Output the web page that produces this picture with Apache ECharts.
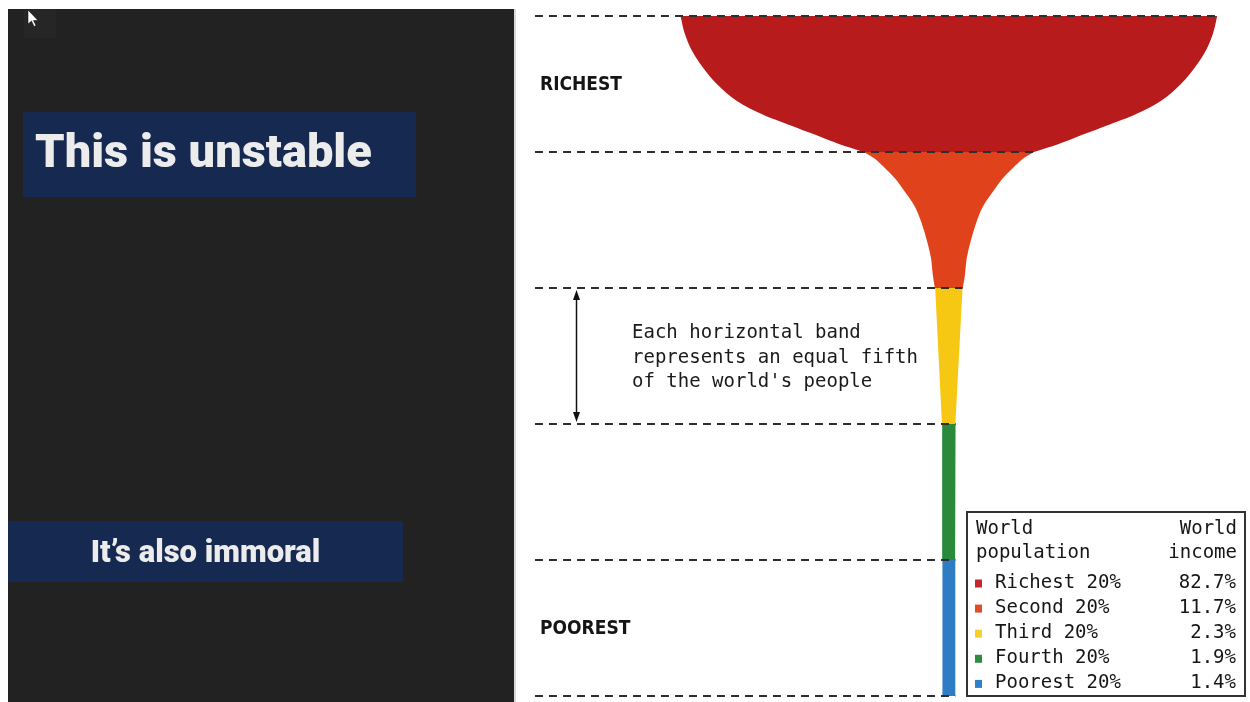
<!DOCTYPE html>
<html>
<head>
<meta charset="utf-8">
<title>World income distribution</title>
<script src="https://cdn.jsdelivr.net/npm/echarts@6/dist/echarts.min.js"></script>
<style>
  html, body { margin: 0; padding: 0; background: #ffffff; }
  #chart { width: 1250px; height: 702px; }
</style>
</head>
<body>
<div id="chart"></div>
<script>
// Distribution of world income across five equal population bands
const bandNames = ['Richest 20%', 'Second 20%', 'Third 20%', 'Fourth 20%', 'Poorest 20%'];
const incomeShares = [82.7, 11.7, 2.3, 1.9, 1.4];
const bandBounds = [100, 80, 60, 40, 20, 0];          // population percentile
const sideLabels = ['RICHEST', '', '', '', 'POOREST'];

// Outline of each band as [population percentile, half-width of the glass]
const richestProfile = [[100, 100], [97.5, 98.5], [95, 95.9], [92.5, 91.8], [90, 86.5], [87.5, 79],
                        [85.5, 69.4], [84, 59.7], [82, 46.3], [81, 39.6], [80, 31.7]];
const secondProfile  = [[80, 31.7], [79, 27.6], [77.5, 23.5], [76, 19.8], [74.5, 17], [72, 12.7],
                        [69.5, 10.1], [67, 8.2], [64.5, 6.7], [62, 6], [60, 5.2]];
const thirdProfile   = [[60, 5.1], [40, 2.5]];
const fourthProfile  = [[40, 2.5], [20, 2.4]];
const poorestProfile = [[20, 2.4], [0, 2.4]];
const profiles = [richestProfile, secondProfile, thirdProfile, fourthProfile, poorestProfile];

const bandColors = ['#b71b1b', '#e0431b', '#f6c813', '#2a8a3b', '#2e7cc3'];
const keyColors  = ['#c1272d', '#e04d26', '#f5d02c', '#2e8b3f', '#2f80c9'];

const X_MIN = -155, X_MAX = 110;
const MONO = '"DejaVu Sans Mono", "Liberation Mono", monospace';

// Half-width of the glass at each band boundary
function edgeAt(k) {
  if (k < profiles.length) return profiles[k][0][1];
  const last = profiles[profiles.length - 1];
  return last[last.length - 1][1];
}

// Smooth path through pixel points (Catmull-Rom as cubic Bezier segments)
function curveThrough(pts) {
  let d = '';
  for (let i = 0; i < pts.length - 1; i++) {
    const p0 = pts[Math.max(i - 1, 0)], p1 = pts[i], p2 = pts[i + 1], p3 = pts[Math.min(i + 2, pts.length - 1)];
    const c1 = [p1[0] + (p2[0] - p0[0]) / 6, p1[1] + (p2[1] - p0[1]) / 6];
    const c2 = [p2[0] - (p3[0] - p1[0]) / 6, p2[1] - (p3[1] - p1[1]) / 6];
    d += ' C' + c1[0] + ' ' + c1[1] + ' ' + c2[0] + ' ' + c2[1] + ' ' + p2[0] + ' ' + p2[1];
  }
  return d;
}

const chart = echarts.init(document.getElementById('chart'), null, { renderer: 'canvas' });

// Key box (population fifth -> share of income)
const keyLeft = 967, keyTop = 512, keyW = 278, keyH = 184;
const monoText = (x, y, text, align) => ({
  type: 'text',
  style: { x: x, y: y, text: text, font: '19px ' + MONO, fill: '#161616', textAlign: align, textVerticalAlign: 'middle' }
});
const keyChildren = [
  { type: 'rect', shape: { x: keyLeft, y: keyTop, width: keyW, height: keyH },
    style: { fill: '#ffffff', stroke: '#333333', lineWidth: 2 } },
  monoText(keyLeft + 9, keyTop + 17.5, 'World', 'left'),
  monoText(keyLeft + 9, keyTop + 41, 'population', 'left'),
  monoText(keyLeft + keyW - 8, keyTop + 17.5, 'World', 'right'),
  monoText(keyLeft + keyW - 8, keyTop + 41, 'income', 'right')
];
bandNames.forEach((name, i) => {
  const cy = keyTop + 71 + i * 25.1;
  keyChildren.push(
    { type: 'rect', shape: { x: keyLeft + 8, y: cy - 3.5, width: 7, height: 8 }, style: { fill: keyColors[i] } },
    monoText(keyLeft + 28, cy, name, 'left'),
    monoText(keyLeft + keyW - 9, cy, incomeShares[i].toFixed(1) + '%', 'right')
  );
});

const option = {
  backgroundColor: '#ffffff',
  animation: false,
  grid: { left: 533, right: 6, top: 16, bottom: 6 },
  xAxis: { type: 'value', min: X_MIN, max: X_MAX, show: false },
  yAxis: { type: 'value', min: 0, max: 100, show: false },
  graphic: [
    // Slide panel on the left
    { type: 'rect', shape: { x: 8, y: 9, width: 506, height: 693 }, style: { fill: '#222222' } },
    { type: 'rect', shape: { x: 24, y: 9, width: 32, height: 29 }, style: { fill: '#262626' } },
    { type: 'line', shape: { x1: 515, y1: 9, x2: 515, y2: 702 }, style: { stroke: '#b4b4b4', lineWidth: 1 } },
    { type: 'polygon', shape: { points: [[28, 10], [28, 24], [31.5, 21], [34, 26.5], [36, 25.5], [33.5, 20.5], [38, 20.5]] },
      style: { fill: '#ffffff', stroke: '#000000', lineWidth: 0.5 } },
    { type: 'rect', shape: { x: 23, y: 112, width: 393, height: 85 }, style: { fill: '#162950' } },
    { type: 'text', style: { x: 35, y: 155, text: 'This is unstable', font: '900 47px Roboto',
        fill: '#ececec', textAlign: 'left', textVerticalAlign: 'middle' } },
    { type: 'rect', shape: { x: 8, y: 521, width: 395, height: 61 }, style: { fill: '#162950' } },
    { type: 'text', style: { x: 205.5, y: 554, text: 'It\u2019s also immoral', font: '900 31px Roboto',
        fill: '#ececec', textAlign: 'center', textVerticalAlign: 'middle' } },
    // Note on band height
    { type: 'text', style: { x: 632, y: 358, text: 'Each horizontal band\nrepresents an equal fifth\nof the world\'s people',
        lineHeight: 24.5, font: '19px ' + MONO, fill: '#1a1a1a', textAlign: 'left', textVerticalAlign: 'middle' } },
    { type: 'group', children: keyChildren }
  ],
  series: [
    {
      // The glass: one filled outline per population fifth
      name: 'bands',
      type: 'custom',
      clip: false,
      data: bandNames.map((_, i) => [0, (bandBounds[i] + bandBounds[i + 1]) / 2, i]),
      renderItem: (params, api) => {
        const prof = profiles[params.dataIndex];
        const left = prof.map(([p, hw]) => api.coord([-hw, p]));
        const right = prof.slice().reverse().map(([p, hw]) => api.coord([hw, p]));
        const d = 'M' + left[0][0] + ' ' + left[0][1] + curveThrough(left) +
                  ' L' + right[0][0] + ' ' + right[0][1] + curveThrough(right) + ' Z';
        return {
          type: 'path',
          shape: { pathData: d },
          style: { fill: bandColors[params.dataIndex] }
        };
      }
    },
    {
      // Dashed boundaries between fifths
      name: 'bounds',
      type: 'custom',
      clip: false,
      data: bandBounds.map((p, k) => [edgeAt(k), p]),
      renderItem: (params, api) => {
        const p = api.value(1);
        const a = api.coord([X_MIN, p]);
        const b = api.coord([api.value(0), p]);
        return {
          type: 'line',
          shape: { x1: a[0] + 2, y1: a[1], x2: b[0], y2: b[1] },
          style: { stroke: '#2e2e2e', lineWidth: 2, lineDash: [8, 6] }
        };
      }
    },
    {
      // Double arrow spanning one band
      name: 'span',
      type: 'custom',
      clip: false,
      data: [[X_MIN + 16, bandBounds[2], bandBounds[3]]],
      renderItem: (params, api) => {
        const top = api.coord([api.value(0), api.value(1)]);
        const bot = api.coord([api.value(0), api.value(2)]);
        const x = Math.round(top[0]) + 0.5;
        const y1 = top[1] + 2, y2 = bot[1] - 2;
        return {
          type: 'group',
          children: [
            { type: 'line', shape: { x1: x, y1: y1 + 4, x2: x, y2: y2 - 4 },
              style: { stroke: '#111111', lineWidth: 1.5 } },
            { type: 'polygon', shape: { points: [[x, y1], [x - 3.5, y1 + 10], [x + 3.5, y1 + 10]] },
              style: { fill: '#111111' } },
            { type: 'polygon', shape: { points: [[x, y2], [x - 3.5, y2 - 10], [x + 3.5, y2 - 10]] },
              style: { fill: '#111111' } }
          ]
        };
      }
    },
    {
      // Labels for the top and bottom bands
      name: 'sides',
      type: 'custom',
      clip: false,
      data: sideLabels.map((t, i) => [X_MIN, (bandBounds[i] + bandBounds[i + 1]) / 2, i]).filter(d => sideLabels[d[2]]),
      renderItem: (params, api) => {
        const pt = api.coord([api.value(0), api.value(1)]);
        return {
          type: 'text',
          style: {
            x: pt[0] + 7, y: pt[1] + 1, text: sideLabels[api.value(2)],
            font: 'bold 19px "DejaVu Sans Condensed", "Liberation Sans Narrow", sans-serif',
            fill: '#151515', textAlign: 'left', textVerticalAlign: 'middle'
          }
        };
      }
    }
  ]
};

chart.setOption(option);
</script>
</body>
</html>
